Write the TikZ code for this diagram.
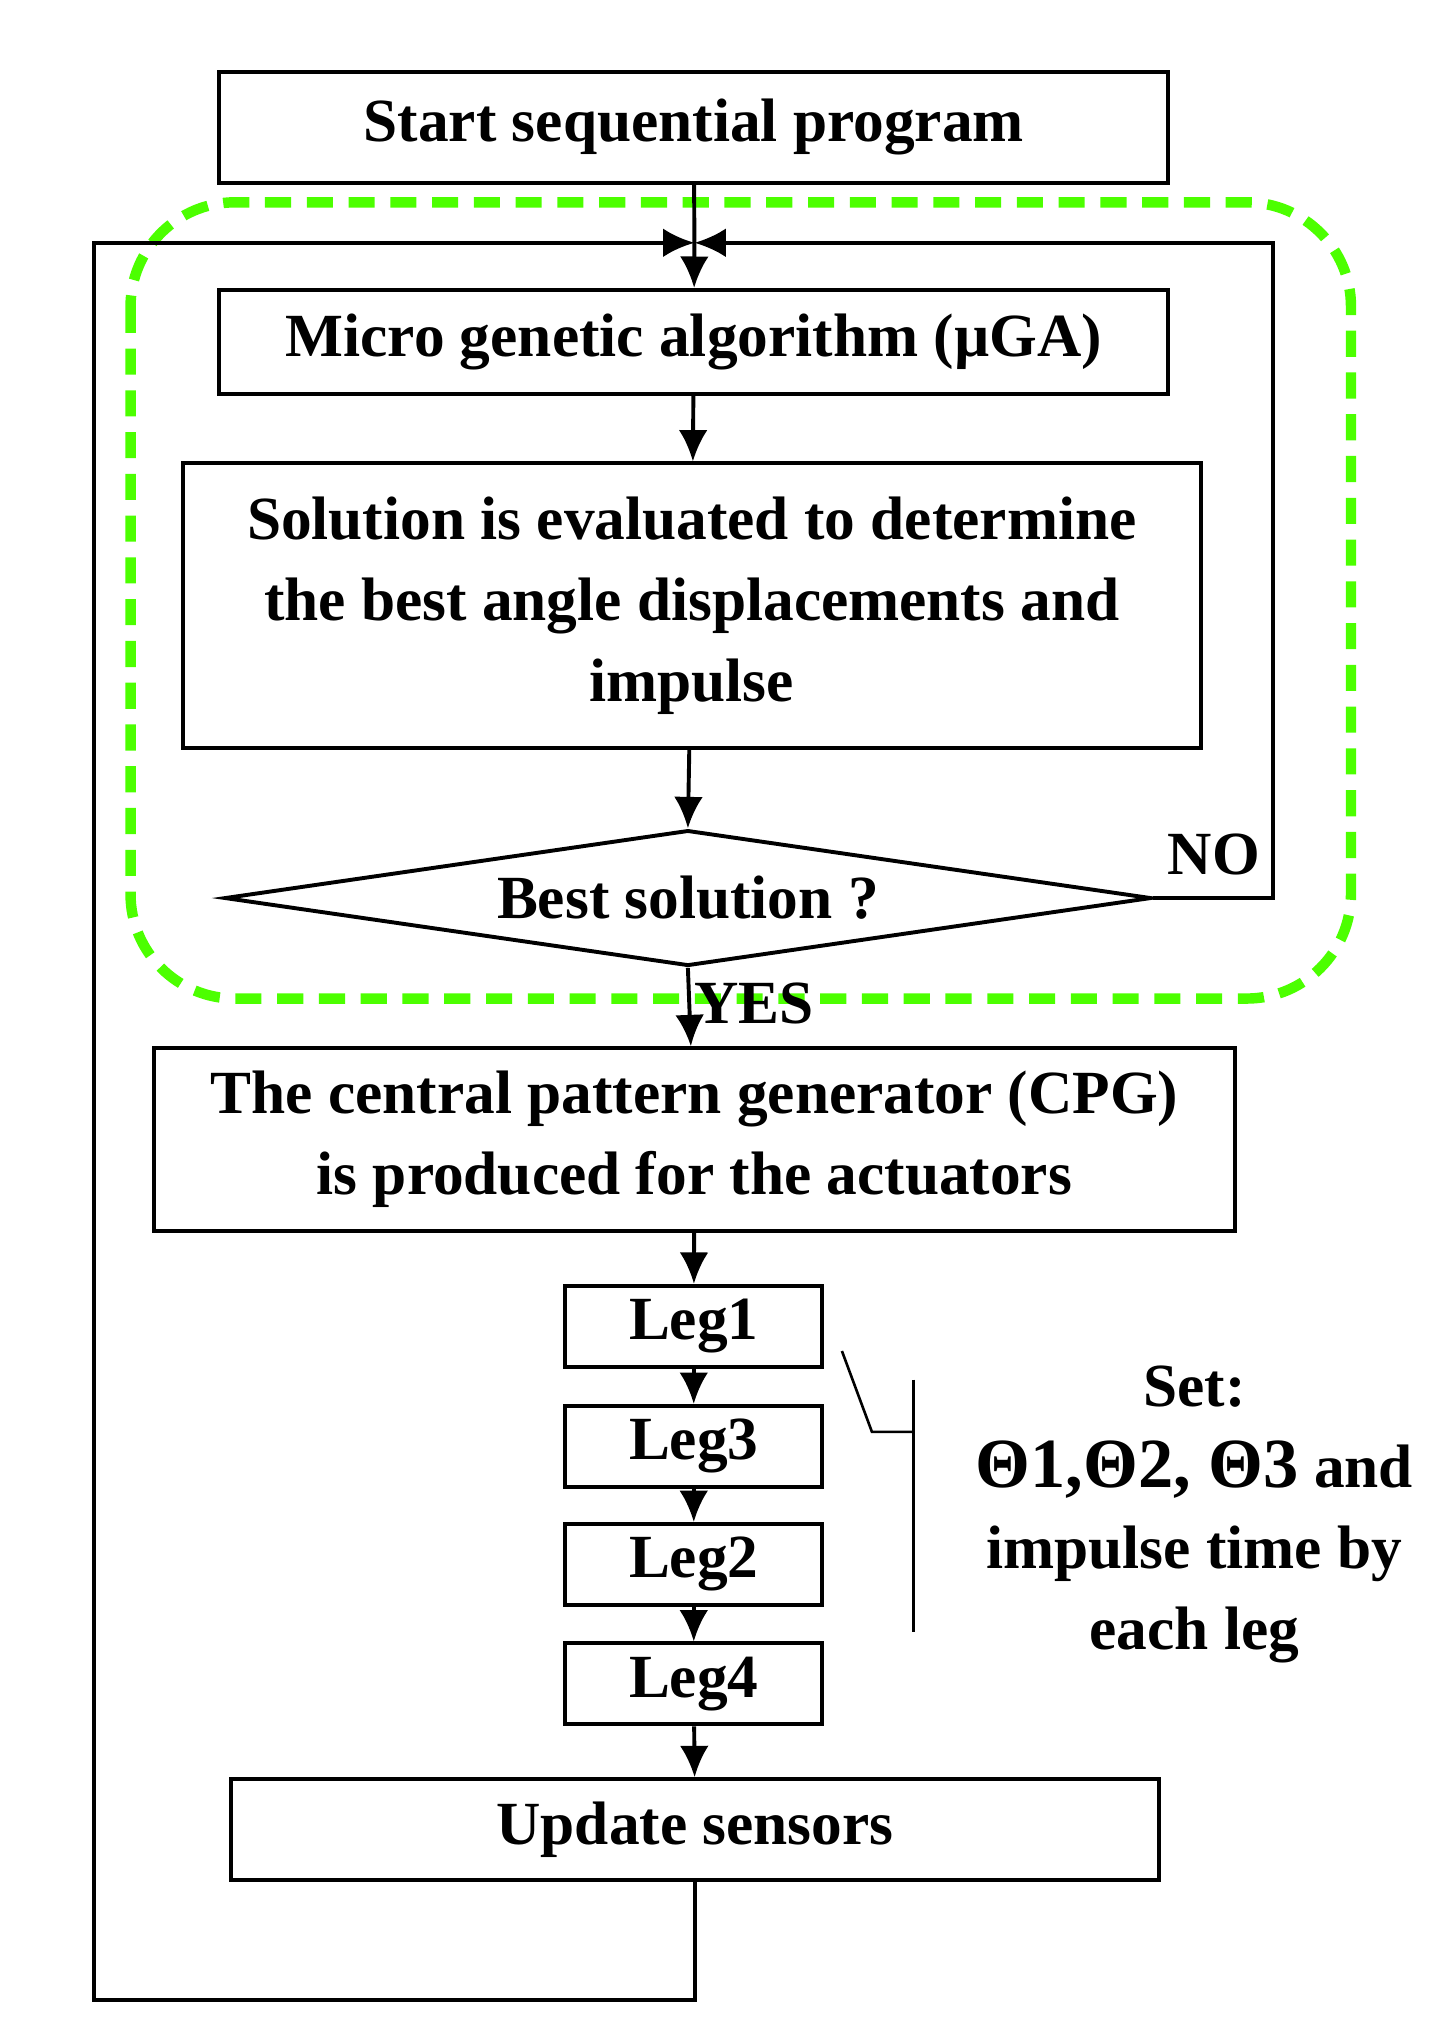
\documentclass[tikz,border=0pt]{standalone}
\usepackage{fontspec}
\setmainfont{Liberation Serif}
\usetikzlibrary{shapes.geometric,arrows.meta}
\begin{document}
\begin{tikzpicture}[x=0.5pt,y=-0.5pt,
  box/.style={draw,line width=1.5pt,align=center,inner sep=0pt,font=\fontsize{23.5}{31}\selectfont\bfseries},
  tip/.style={-{Latex[length=12pt,width=11pt]}},
  arr/.style={line width=1.5pt,tip},
  ln/.style={line width=1.5pt}]
\useasboundingbox (0,0) rectangle (1103,1546);
\node[box,minimum width=363.5pt,minimum height=42.5pt] (start) at (531.5,97.5) {Start sequential program};
\node[box,minimum width=363.5pt,minimum height=40pt] (mga) at (531.5,262) {Micro genetic algorithm (µGA)};
\node[box,minimum width=390pt,minimum height=109pt] (sol) at (530,464) {Solution is evaluated to determine\\the best angle displacements and\\impulse};
\node[draw,line width=1.5pt,diamond,aspect=6.8,inner sep=0pt,minimum width=355pt,minimum height=52pt,font=\fontsize{23.5}{31}\selectfont\bfseries] (dec) at (527,688) {Best solution ?};
\node[box,minimum width=414pt,minimum height=70pt] (cpg) at (532,873) {The central pattern generator (CPG)\\is produced for the actuators};
\node[box,minimum width=98.5pt,minimum height=31pt] (l1) at (531.5,1016) {Leg1};
\node[box,minimum width=98.5pt,minimum height=31pt] (l3) at (531.5,1108) {Leg3};
\node[box,minimum width=98.5pt,minimum height=31pt] (l2) at (531.5,1198.5) {Leg2};
\node[box,minimum width=98.5pt,minimum height=31pt] (l4) at (531.5,1290) {Leg4};
\node[box,minimum width=355.5pt,minimum height=38.5pt] (upd) at (532.5,1401.5) {Update sensors};
\coordinate (j) at (532,186);
\coordinate (bl) at (72,1532);
\coordinate (tr) at (975,186);
\draw[green!60!lime,line width=4pt,dash pattern=on 10pt off 6pt,rounded corners=40pt] (100,155) rectangle (1035,765);
\draw[ln] (start) -- (j);
\draw[arr] (j) -- (mga);
\draw[arr] (mga) -- (sol);
\draw[arr] (sol) -- (dec.north);
\draw[arr] (dec.south) -- (cpg) node[pos=0.45,right=-2pt,font=\fontsize{23.5}{31}\selectfont\bfseries]{YES};
\draw[arr] (cpg) -- (l1);
\draw[arr] (l1) -- (l3);
\draw[arr] (l3) -- (l2);
\draw[arr] (l2) -- (l4);
\draw[arr] (l4) -- (upd);
\draw[arr] (upd.south) |- (bl) |- (j);
\draw[arr] (dec.east) -| (tr) -- (j);
\node[font=\fontsize{23.5}{31}\selectfont\bfseries] (no) at (930,655) {NO};
\coordinate (b1) at (645,1035);
\coordinate (b2) at (668,1097);
\coordinate (b3) at (700,1097);
\coordinate (b4) at (700,1057);
\coordinate (b5) at (700,1250);
\draw[line width=1pt] (b1) -- (b2) -- (b3);
\draw[line width=1pt] (b4) -- (b5);
\node[align=center,font=\fontsize{23.5}{31}\selectfont\bfseries] (set) at (915,1160) {Set:\\{\fontsize{27}{31}\selectfont Θ1,Θ2, Θ3} and\\impulse time by\\each leg};
\end{tikzpicture}
\end{document}
